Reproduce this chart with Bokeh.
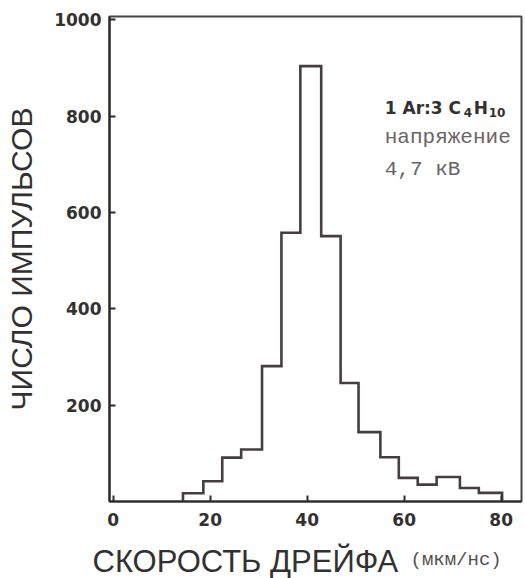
from bokeh.plotting import figure
from bokeh.layouts import column
from bokeh.models import Label, FixedTicker
from bokeh.embed import file_html
from bokeh.resources import INLINE

# Drift-velocity histogram: bin edges (um/ns) and pulse counts per bin
bin_edges = [14.4, 18.6, 22.5, 26.4, 30.7, 34.7, 38.6, 42.9, 46.9,
             50.6, 55.1, 58.9, 62.8, 66.7, 71.5, 75.4, 80.2]
counts = [17, 42, 91, 108, 281, 558, 904, 551, 246,
          144, 92, 49, 35, 51, 28, 18]

x_ticks = [0, 20, 40, 60, 80]
y_ticks = [200, 400, 600, 800, 1000]

x_title = "СКОРОСТЬ ДРЕЙФА"
x_units = "(мкм/нс)"
y_title = "ЧИСЛО ИМПУЛЬСОВ"
mixture = ["1 Ar:3 C", "4", "H", "10"]
voltage_lines = ["напряжение", "4,7 кВ"]

ink = "#2e2a2a"
hist_ink = "#463e3e"
text_ink = "#333030"

TITLE_H = 40

p = figure(width=525, height=578 - TITLE_H, x_range=(-0.75, 84.2), y_range=(0, 1007),
           output_backend="svg", toolbar_location=None,
           min_border_left=109, min_border_right=4,
           min_border_top=16, min_border_bottom=37)
p.background_fill_color = "white"
p.border_fill_color = "white"
p.grid.visible = False
p.outline_line_color = "#4a4444"
p.outline_line_width = 2

# Outline of the histogram as one stepped path
xs = [bin_edges[0]]
ys = [0]
for i, c in enumerate(counts):
    xs += [bin_edges[i], bin_edges[i + 1]]
    ys += [c, c]
xs.append(bin_edges[-1])
ys.append(0)
p.line(xs, ys, line_color=hist_ink, line_width=2.6, line_join="miter")

for ax in (p.xaxis[0], p.yaxis[0]):
    ax.axis_line_color = ink
    ax.axis_line_width = 2.2
    ax.major_tick_line_color = ink
    ax.major_tick_line_width = 2
    ax.major_tick_in = 6
    ax.major_tick_out = 0
    ax.minor_tick_line_color = None
    ax.major_label_text_font = "DejaVu Sans"
    ax.major_label_text_font_style = "bold"
    ax.major_label_text_font_size = "17px"
    ax.major_label_text_color = text_ink

p.xaxis.ticker = FixedTicker(ticks=x_ticks)
p.yaxis.ticker = FixedTicker(ticks=y_ticks)
p.xaxis.major_label_standoff = 11
p.yaxis.major_label_standoff = 8

p.yaxis.axis_label = y_title
p.yaxis.axis_label_text_font = "Liberation Sans"
p.yaxis.axis_label_text_font_style = "normal"
p.yaxis.axis_label_text_font_size = "30px"
p.yaxis.axis_label_text_color = text_ink
p.yaxis.axis_label_standoff = 13

# Gas mixture with subscripts
mix_x, mix_y = 56.0, 818
p.add_layout(Label(x=mix_x, y=mix_y, text=mixture[0], text_font="DejaVu Sans",
                   text_font_style="bold", text_font_size="17px",
                   text_color=text_ink, text_baseline="middle"))
p.add_layout(Label(x=mix_x, y=mix_y, x_offset=79, y_offset=-5, text=mixture[1],
                   text_font="DejaVu Sans", text_font_style="bold",
                   text_font_size="12px", text_color=text_ink,
                   text_baseline="middle"))
p.add_layout(Label(x=mix_x, y=mix_y, x_offset=89, text=mixture[2],
                   text_font="DejaVu Sans", text_font_style="bold",
                   text_font_size="17px", text_color=text_ink,
                   text_baseline="middle"))
p.add_layout(Label(x=mix_x, y=mix_y, x_offset=104, y_offset=-5, text=mixture[3],
                   text_font="DejaVu Sans", text_font_style="bold",
                   text_font_size="12px", text_color=text_ink,
                   text_baseline="middle"))

for txt, yy in zip(voltage_lines, [756, 689]):
    p.add_layout(Label(x=mix_x, y=yy, text=txt, text_font="Liberation Mono",
                       text_font_size="21px", text_color="#6a6464",
                       text_baseline="middle"))

# Strip under the chart carrying the horizontal axis title and its units
t = figure(width=525, height=TITLE_H, x_range=(0, 525), y_range=(0, TITLE_H),
           output_backend="svg", toolbar_location=None, min_border=0,
           x_axis_location=None, y_axis_location=None)
t.frame_align = False
t.grid.visible = False
t.outline_line_color = None
t.background_fill_color = "white"
t.border_fill_color = "white"
t.add_layout(Label(x=92, y=17, text=x_title, text_font="Liberation Sans",
                   text_font_size="31px", text_color=text_ink,
                   text_align="left", text_baseline="middle"))
t.add_layout(Label(x=410, y=19, text=x_units, text_font="Liberation Mono",
                   text_font_size="19px", text_color="#555050",
                   text_align="left", text_baseline="middle"))

layout = column(p, t, spacing=0)
open("out.html", "w").write(file_html(layout, INLINE))
